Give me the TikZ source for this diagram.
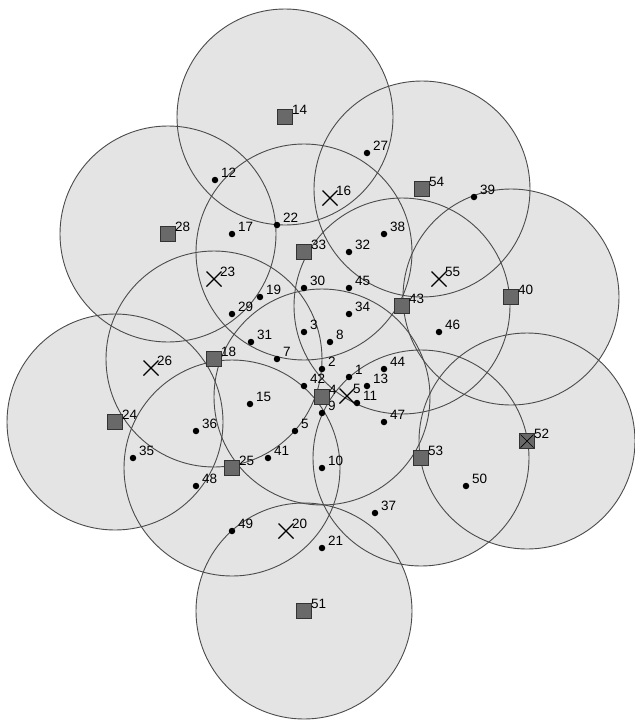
\documentclass[tikz,border=0pt]{standalone}
\usepackage{fontspec}
\setmainfont{Liberation Sans}
\usepackage{tikz}
\definecolor{rangegray}{RGB}{228, 228, 228}
\definecolor{edgegray}{RGB}{75, 75, 75}
\definecolor{anchorgray}{RGB}{105, 105, 105}
\usetikzlibrary{shapes,arrows}

\begin{document}
\begin{tikzpicture}[x=1pt, y=-1pt,
		cross/.style={draw, cross out, minimum size=#1, inner sep=0pt, outer sep=0pt, line width=1.1pt},
		sensor/.style={circle, fill=black, minimum size=6.5pt, inner sep=0pt},
		beacon/.style={draw=black!80, fill=anchorgray, minimum size=15pt, inner sep=0pt, line width=0.8pt},
		lbl/.style={anchor=south west, inner sep=0pt, font=\fontsize{13.5}{15}\selectfont},
		rangefill/.style={fill=rangegray},
		rangeedge/.style={draw=edgegray, line width=0.9pt}]
	%Bildbereich
	\useasboundingbox (0,0) rectangle (635,721);
	% Ankerknoten (Koordinaten)
	\foreach \n/\x/\y in {14/285/117, 28/168/234, 54/422/189, 33/304/252, 43/402/306, 40/511/297, 18/214/359,
			4/322/397, 24/115/422, 25/232/468, 53/421/458, 52/527/441, 51/304/611}
		\coordinate (c\n) at (\x,\y);
	% Reichweiten: erst Flaechen, dann Raender
	\foreach \n in {14,28,54,33,43,40,18,4,24,25,53,52,51}
		\fill[rangefill] (c\n) circle[radius=108pt];
	\foreach \n in {14,28,54,33,43,40,18,4,24,25,53,52,51}
		\draw[rangeedge] (c\n) circle[radius=108pt];
	% Sensorknoten
	\foreach \n/\x/\y in {12/215/180, 27/367/153, 22/277/225, 17/232/234, 38/384/234, 32/349/252, 39/474/197,
			30/304/288, 45/349/288, 19/260/297, 29/232/314, 34/349/314, 31/251/342, 3/304/332, 8/330/342,
			46/439/332, 7/277/359, 2/322/369, 44/384/369, 1/349/377, 42/304/386, 13/367/386, 11/357/403,
			9/322/413, 15/250/404, 47/384/422, 5/295/431, 36/196/431, 41/268/458, 35/133/458, 10/322/468,
			48/196/486, 50/466/486, 37/375/513, 49/232/531, 21/322/548}
	{
		\node[sensor] (s\n) at (\x,\y) {};
		\node[lbl] (ls\n) at ([xshift=6pt,yshift=2pt]s\n.center) {\n};
	}
	% Ziele (Kreuze)
	\foreach \n/\x/\y in {16/330/198, 23/214/279, 55/439/279, 26/151/368, 5/347/396, 20/286/531}
	{
		\node[cross=15pt] (t\n) at (\x,\y) {};
		\node[lbl] (lt\n) at ([xshift=6pt,yshift=2pt]t\n.center) {\n};
	}
	% Anker (Quadrate)
	\foreach \n in {14,28,54,33,43,40,18,4,24,25,53,52,51}
	{
		\node[beacon] (a\n) at (c\n) {};
		\node[lbl] (la\n) at ([xshift=7pt,yshift=2pt]a\n.center) {\n};
	}
	% Anker 52 zusaetzlich gekreuzt
	\node[cross=13pt, line width=0.7pt] (t52) at (a52) {};
\end{tikzpicture}
\end{document}
